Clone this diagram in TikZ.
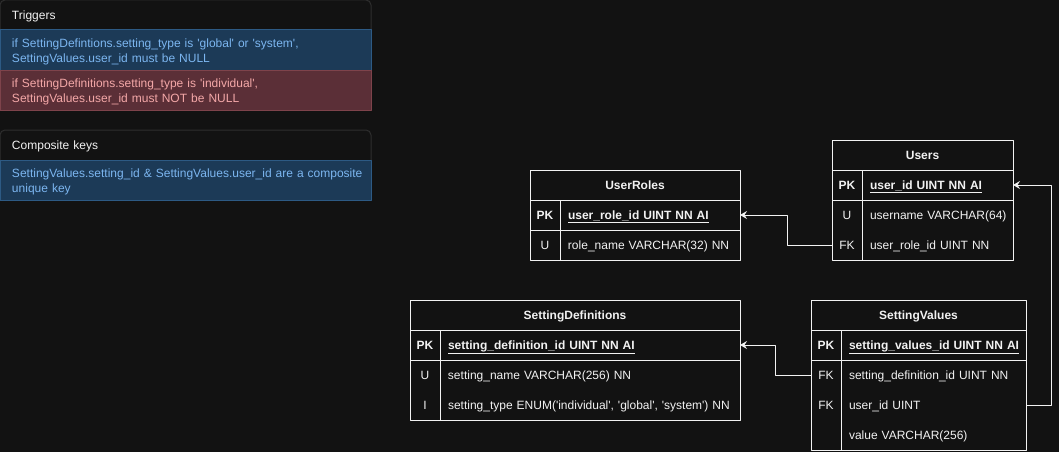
\documentclass[tikz,border=0pt]{standalone}
\usepackage{fontspec}
\setmainfont{Liberation Sans}
\usetikzlibrary{arrows.meta}

\definecolor{canvas}{HTML}{121212}
\definecolor{panelline}{HTML}{2E2E2E}
\definecolor{infofill}{HTML}{1C3A57}
\definecolor{infoline}{HTML}{2D5A84}
\definecolor{infotext}{HTML}{7CB6F0}
\definecolor{warnfill}{HTML}{5B2F37}
\definecolor{warnline}{HTML}{7E434B}
\definecolor{warntext}{HTML}{F4A8A8}
\definecolor{ink}{HTML}{F2F2F2}

\newcommand{\sq}{\textquotesingle}
\newcommand{\field}[2]{\makebox[30pt]{#1}\hspace{8pt}#2}
\newcommand{\pkey}[1]{\textbf{\underline{#1}}}

\begin{document}
\begin{tikzpicture}[x=1pt,y=-1pt,line join=round,font=\fontsize{12}{15}\selectfont,
		hdr/.style={anchor=north west,inner sep=0pt,outer sep=0pt,minimum height=30pt,minimum width=#1,text height=9.5pt,text depth=0pt,text=ink,font=\fontsize{12}{15}\selectfont\bfseries},
		row/.style={anchor=north west,inner sep=0pt,outer sep=0pt,minimum height=30pt,text width=#1,text height=9.5pt,text depth=0pt,align=left,text=ink,execute at begin node=\noindent},
		tbl/.style={draw=ink,line width=1pt},
		fk/.style={draw=ink,line width=1pt,-{Stealth[length=7pt,width=8pt,inset=2.5pt]}},
		note/.style={anchor=north west,inner xsep=12pt,inner ysep=0pt,outer sep=0pt,text width=347pt,align=left,line width=1pt},
		notehdr/.style={note,minimum height=30pt,text height=9.5pt,text depth=0pt,text=ink},
		noterow/.style={note,minimum height=40pt,text height=12pt,text depth=17pt,fill=#1fill,draw=#1line,text=#1text}]
	\useasboundingbox (0,0) rectangle (1059,452);
	\fill[canvas] (0,0) rectangle (1059,452);
	% notes on the left
	\node[notehdr] (trg-h) at (0,0) {Triggers};
	\draw[panelline,line width=1pt,rounded corners=5pt] (trg-h.south west) -- (trg-h.north west) -- (trg-h.north east) -- (trg-h.south east);
	\node[noterow=info] (trg-1) at (trg-h.south west) {if SettingDefintions.setting\_type is \sq global\sq{} or \sq system\sq,\\SettingValues.user\_id must be NULL};
	\node[noterow=warn] (trg-2) at (trg-1.south west) {if SettingDefinitions.setting\_type is \sq individual\sq,\\SettingValues.user\_id must NOT be NULL};
	\node[notehdr] (cmp-h) at (0,130) {Composite keys};
	\draw[panelline,line width=1pt,rounded corners=5pt] (cmp-h.south west) -- (cmp-h.north west) -- (cmp-h.north east) -- (cmp-h.south east);
	\node[noterow=info] (cmp-1) at (cmp-h.south west) {\mbox{SettingValues.setting\_id \& SettingValues.user\_id are a composite}\\unique key};
	% UserRoles
	\node[hdr=210pt] (ur-h) at (530,170) {UserRoles};
	\node[row=210pt] (ur-1) at (ur-h.south west) {\field{\textbf{PK}}{\pkey{user\_role\_id UINT NN AI}}};
	\node[row=210pt] (ur-2) at (ur-1.south west) {\field{U}{role\_name VARCHAR(32) NN}};
	\draw[tbl] (ur-h.north west) rectangle (ur-2.south east);
	\draw[tbl] (ur-h.south west) -- (ur-h.south east) (ur-1.south west) -- (ur-1.south east);
	\draw[tbl] ([xshift=30pt]ur-1.north west) -- ([xshift=30pt]ur-2.south west);
	% Users
	\node[hdr=181pt] (us-h) at (832,140) {Users};
	\node[row=181pt] (us-1) at (us-h.south west) {\field{\textbf{PK}}{\pkey{user\_id UINT NN AI}}};
	\node[row=181pt] (us-2) at (us-1.south west) {\field{U}{username VARCHAR(64)}};
	\node[row=181pt] (us-3) at (us-2.south west) {\field{FK}{user\_role\_id UINT NN}};
	\draw[tbl] (us-h.north west) rectangle (us-3.south east);
	\draw[tbl] (us-h.south west) -- (us-h.south east) (us-1.south west) -- (us-1.south east);
	\draw[tbl] ([xshift=30pt]us-1.north west) -- ([xshift=30pt]us-3.south west);
	% SettingDefinitions
	\node[hdr=330pt] (sd-h) at (410,300) {SettingDefinitions};
	\node[row=330pt] (sd-1) at (sd-h.south west) {\field{\textbf{PK}}{\pkey{setting\_definition\_id UINT NN AI}}};
	\node[row=330pt] (sd-2) at (sd-1.south west) {\field{U}{setting\_name VARCHAR(256) NN}};
	\node[row=330pt] (sd-3) at (sd-2.south west) {\field{I}{setting\_type ENUM(\sq individual\sq, \sq global\sq, \sq system\sq) NN}};
	\draw[tbl] (sd-h.north west) rectangle (sd-3.south east);
	\draw[tbl] (sd-h.south west) -- (sd-h.south east) (sd-1.south west) -- (sd-1.south east);
	\draw[tbl] ([xshift=30pt]sd-1.north west) -- ([xshift=30pt]sd-3.south west);
	% SettingValues
	\node[hdr=215pt] (sv-h) at (811,300) {SettingValues};
	\node[row=215pt] (sv-1) at (sv-h.south west) {\field{\textbf{PK}}{\pkey{setting\_values\_id UINT NN AI}}};
	\node[row=215pt] (sv-2) at (sv-1.south west) {\field{FK}{setting\_definition\_id UINT NN}};
	\node[row=215pt] (sv-3) at (sv-2.south west) {\field{FK}{user\_id UINT}};
	\node[row=215pt] (sv-4) at (sv-3.south west) {\field{}{value VARCHAR(256)}};
	\draw[tbl] (sv-h.north west) rectangle (sv-4.south east);
	\draw[tbl] (sv-h.south west) -- (sv-h.south east) (sv-1.south west) -- (sv-1.south east);
	\draw[tbl] ([xshift=30pt]sv-1.north west) -- ([xshift=30pt]sv-4.south west);
	% foreign keys
	\draw[fk] (us-3.west) -- ++(-45,0) |- (ur-1.east);
	\draw[fk] (sv-2.west) -- ++(-36,0) |- (sd-1.east);
	\draw[fk] (sv-3.east) -- ++(25,0) |- (us-1.east);
\end{tikzpicture}
\end{document}
